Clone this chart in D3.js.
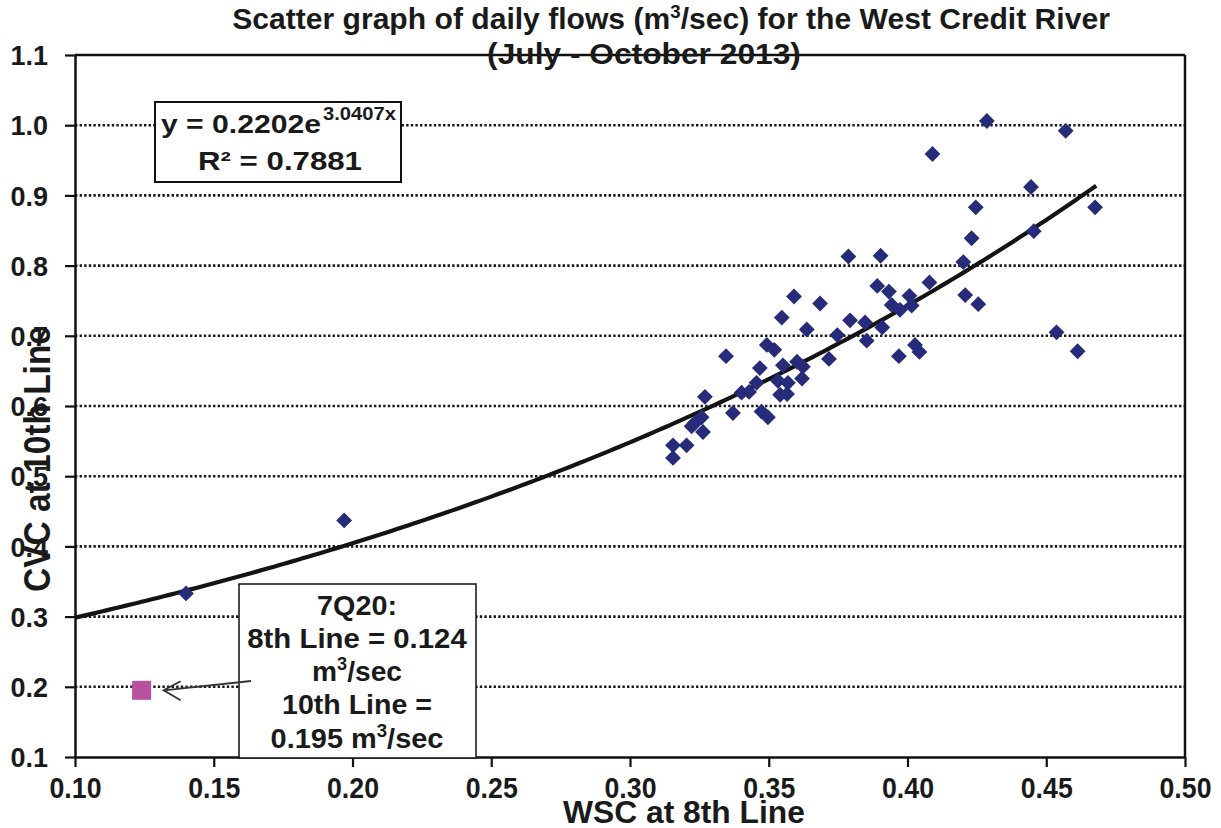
<!DOCTYPE html>
<html>
<head>
<meta charset="utf-8">
<script src="https://cdn.jsdelivr.net/npm/d3@7"></script>
<style>
  html, body { margin: 0; padding: 0; background: #fff; }
  svg { display: block; }
  .bold { font-family: "Liberation Sans", Arial, sans-serif; font-weight: bold; }
</style>
</head>
<body>
<svg id="chart" width="1221" height="828"></svg>
<script>
// ---- Data ----
const titleLines = ["Scatter graph of daily flows (m³/sec) for the West Credit River", "(July - October 2013)"];
const xTicks = [0.10, 0.15, 0.20, 0.25, 0.30, 0.35, 0.40, 0.45, 0.50];
const yTicks = [0.1, 0.2, 0.3, 0.4, 0.5, 0.6, 0.7, 0.8, 0.9, 1.0, 1.1];
const gridValues = [0.2, 0.3, 0.4, 0.5, 0.6, 0.7, 0.8, 0.9, 1.0];

// WSC at 8th Line (x) vs CVC at 10th Line (y)
const wsc = [0.140, 0.197,
  0.3155, 0.3155, 0.3204, 0.3222, 0.3234, 0.3258, 0.3263, 0.3270, 0.3346, 0.3371,
  0.3402, 0.3429, 0.3456, 0.3468, 0.3474, 0.3493, 0.3497, 0.3520, 0.3533, 0.3541,
  0.3547, 0.3551, 0.3566, 0.3569, 0.3591, 0.3602, 0.3620, 0.3623, 0.3637, 0.3685,
  0.3717, 0.3747, 0.3787, 0.3793, 0.3847, 0.3853, 0.3891, 0.3903, 0.3909, 0.3933,
  0.3943, 0.3969, 0.3973, 0.4007, 0.4015, 0.4027, 0.4043, 0.4079, 0.4090, 0.4201,
  0.4208, 0.4231, 0.4246, 0.4255, 0.4286, 0.4445, 0.4455, 0.4537, 0.4570, 0.4613, 0.4676];
const cvc = [0.333, 0.437,
  0.526, 0.544, 0.544, 0.571, 0.576, 0.584, 0.563, 0.613, 0.671, 0.590,
  0.619, 0.620, 0.633, 0.654, 0.592, 0.687, 0.584, 0.680, 0.636, 0.616,
  0.726, 0.658, 0.617, 0.633, 0.756, 0.663, 0.639, 0.656, 0.709, 0.746,
  0.667, 0.701, 0.813, 0.722, 0.719, 0.693, 0.771, 0.814, 0.712, 0.763,
  0.744, 0.671, 0.737, 0.757, 0.743, 0.687, 0.677, 0.776, 0.959, 0.805,
  0.758, 0.839, 0.883, 0.745, 1.006, 0.912, 0.849, 0.705, 0.992, 0.678, 0.883];

// 7Q20 point
const q7x = [0.124];
const q7y = [0.195];

// Exponential trendline y = a * e^(b x), as reported on the chart
const trendA = 0.2202, trendB = 3.0407;
const trendRange = [0.10, 0.468];

const eqText = ["y = 0.2202e", "3.0407x", "R² = 0.7881"];
const noteLines = ["7Q20:", "8th Line = 0.124", "m³/sec", "10th Line =", "0.195 m³/sec"];
const xTitle = "WSC at 8th Line";
const yTitle = "CVC at 10th Line";

// ---- Layout ----
const svg = d3.select("#chart");
const L = 75, R = 1185, T = 55, B = 757;
const x = d3.scaleLinear().domain([0.10, 0.50]).range([L, R]);
const y = d3.scaleLinear().domain([0.1, 1.1]).range([B, T]);
const ink = "#1a1a1a";

// place a text at (cx, cy) and stretch/condense it horizontally to width w
function fitText(sel, cx, cy, w, rot) {
  const bw = sel.node().getBBox().width;
  const s = bw > 0 ? w / bw : 1;
  sel.attr("x", 0).attr("y", 0)
     .attr("transform", `translate(${cx},${cy})${rot ? ` rotate(${rot})` : ""} scale(${s},1)`);
  return sel;
}
function addSup(t, str, supSize, lift) {
  const parts = str.split("³");
  if (parts.length === 2) {
    t.append("tspan").text(parts[0]);
    t.append("tspan").attr("font-size", supSize).attr("dy", -lift).text("3");
    t.append("tspan").attr("dy", lift).text(parts[1]);
  } else t.text(str);
}

// gridlines
svg.append("g").selectAll("line").data(gridValues).join("line")
  .attr("x1", L).attr("x2", R)
  .attr("y1", d => y(d)).attr("y2", d => y(d))
  .attr("stroke", "#1a1a1a").attr("stroke-width", 2.6)
  .attr("stroke-dasharray", "2.4,2.2");

// plot border (top & right)
svg.append("line").attr("x1", L).attr("x2", R).attr("y1", T).attr("y2", T)
  .attr("stroke", "#111").attr("stroke-width", 2.5);
svg.append("line").attr("x1", R).attr("x2", R).attr("y1", T).attr("y2", B)
  .attr("stroke", "#111").attr("stroke-width", 2.5);

// axes
const xAxis = d3.axisBottom(x).tickValues(xTicks).tickFormat(d3.format(".2f")).tickSize(10).tickSizeOuter(0).tickPadding(10);
const gx = svg.append("g").attr("transform", `translate(0,${B})`).call(xAxis);
const yAxis = d3.axisLeft(y).tickValues(yTicks).tickFormat(d3.format(".1f")).tickSize(10).tickSizeOuter(0).tickPadding(17);
const gy = svg.append("g").attr("transform", `translate(${L},0)`).call(yAxis);
[gx, gy].forEach(g => {
  g.select(".domain").attr("stroke", "#111").attr("stroke-width", 2.5);
  g.selectAll(".tick line").attr("stroke", "#111").attr("stroke-width", 2.2);
  g.selectAll(".tick text").attr("class", "bold").attr("fill", ink);
});
gx.selectAll(".tick text").attr("font-size", 30).attr("dy", "0.71em")
  .each(function () {
    const t = d3.select(this);
    const yy = +t.attr("y");
    fitText(t, 0, yy, 52);
  });
gy.selectAll(".tick text").attr("font-size", 27).attr("dy", "0.36em");

// trendline
const tx = d3.range(trendRange[0], trendRange[1] + 1e-9, 0.002);
svg.append("path")
  .datum(tx)
  .attr("d", d3.line().x(d => x(d)).y(d => y(trendA * Math.exp(trendB * d))))
  .attr("fill", "none").attr("stroke", "#141414").attr("stroke-width", 4.2);

// data diamonds
const diamond = d3.symbol().type(d3.symbolSquare).size(125);
svg.append("g").selectAll("path").data(wsc.map((v, i) => [v, cvc[i]])).join("path")
  .attr("d", diamond)
  .attr("transform", d => `translate(${x(d[0])},${y(d[1])}) rotate(45)`)
  .attr("fill", "#262b7a");

// 7Q20 square
svg.append("g").selectAll("rect").data(q7x.map((v, i) => [v, q7y[i]])).join("rect")
  .attr("x", d => x(d[0]) - 9.5).attr("y", d => y(d[1]) - 9.5)
  .attr("width", 19).attr("height", 19)
  .attr("fill", "#b8519e");

// equation box
svg.append("rect").attr("x", 155).attr("y", 102).attr("width", 246).attr("height", 80)
  .attr("fill", "#fff").attr("stroke", "#111").attr("stroke-width", 2);
fitText(svg.append("text").attr("class", "bold").attr("font-size", 26).attr("fill", ink).text(eqText[0]),
  161, 133, 160);
fitText(svg.append("text").attr("class", "bold").attr("font-size", 18).attr("fill", ink).text(eqText[1]),
  323, 120, 73);
fitText(svg.append("text").attr("class", "bold").attr("text-anchor", "middle").attr("font-size", 26).attr("fill", ink).text(eqText[2]),
  280, 170, 164);

// 7Q20 note box
svg.append("rect").attr("x", 239).attr("y", 584).attr("width", 237).attr("height", 174)
  .attr("fill", "#fff").attr("stroke", "#111").attr("stroke-width", 1.5);
const noteY = [615, 648, 681, 714, 748];
const noteW = [80, 220, 90, 150, 173];
noteLines.forEach((t, i) => {
  const tt = svg.append("text").attr("class", "bold").attr("text-anchor", "middle")
    .attr("font-size", 28).attr("fill", ink);
  addSup(tt, t, 18, 11);
  fitText(tt, 357, noteY[i], noteW[i]);
});

// arrow to 7Q20 point
const tipX = x(q7x[0]) + 22, tipY = y(q7y[0]);
svg.append("path")
  .attr("d", `M251,681 L${tipX},${tipY} M${tipX + 17},${tipY - 9} L${tipX},${tipY} L${tipX + 17},${tipY + 10}`)
  .attr("fill", "none").attr("stroke", "#333").attr("stroke-width", 1.8);

// titles
const t1 = svg.append("text").attr("class", "bold").attr("text-anchor", "middle")
  .attr("font-size", 29).attr("fill", ink);
addSup(t1, titleLines[0], 18, 11);
fitText(t1, 671, 29, 878);
fitText(svg.append("text").attr("class", "bold").attr("text-anchor", "middle")
  .attr("font-size", 29).attr("fill", ink).text(titleLines[1]), 644, 64, 314);

fitText(svg.append("text").attr("class", "bold").attr("text-anchor", "middle")
  .attr("font-size", 31).attr("fill", ink).text(xTitle), 684, 823, 242);

fitText(svg.append("text").attr("class", "bold").attr("text-anchor", "middle")
  .attr("font-size", 36).attr("fill", ink).text(yTitle), 50, 459, 266, -90);
</script>
</body>
</html>
